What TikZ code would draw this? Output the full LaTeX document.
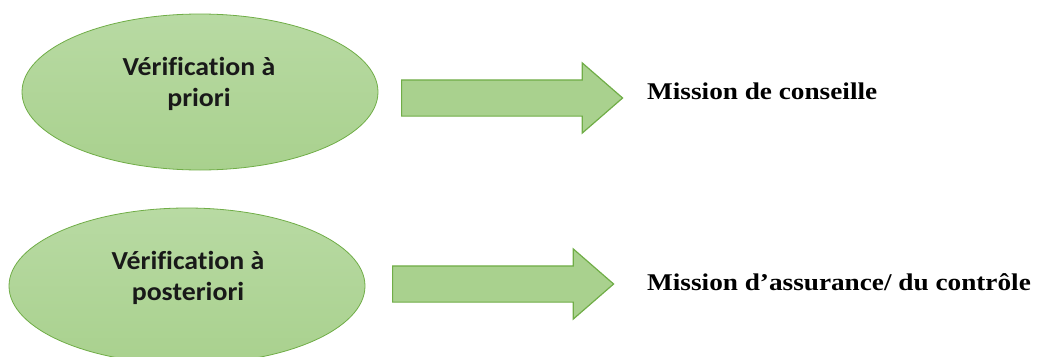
\documentclass[tikz,border=0pt]{standalone}
\usepackage{fontspec}
\usetikzlibrary{shapes.geometric,shapes.arrows}
\setmainfont{Liberation Serif}
\newfontfamily\calib[FakeStretch=1.07,Ligatures=NoCommon]{Carlito}
\newfontfamily\timesb[FakeStretch=1.135]{Liberation Serif}
\definecolor{gfill}{HTML}{A9D18E}
\definecolor{gtop}{HTML}{B8DAA3}
\definecolor{gline}{HTML}{70AD47}
\tikzset{
  oval/.style={ellipse, draw=gline, line width=0.8pt, top color=gtop, bottom color=gfill, minimum width=356pt, minimum height=156pt, inner sep=0pt},
  ovaltext/.style={font=\calib\bfseries\fontsize{26}{31}\selectfont, align=center, text=black!90, inner sep=0pt},
  bigarrow/.style={single arrow, draw=gline, line width=1.2pt, fill=gfill, minimum width=69pt, minimum height=221pt, single arrow head extend=17pt, single arrow tip angle=82, single arrow head indent=0pt, inner xsep=0pt, inner ysep=17.5pt, anchor=tail},
  mission/.style={font=\timesb\bfseries\fontsize{24}{28}\selectfont, anchor=base west, inner sep=0pt}
}
\begin{document}
\begin{tikzpicture}[x=1pt,y=-1pt]
\useasboundingbox (0,0) rectangle (1038,356);
\clip (0,0) rectangle (1038,356);
\node[oval] (e1) at (200,92) {};
\node[ovaltext] (t1) at (199,84) {Vérification à\\priori};
\node[oval] (e2) at (187,286) {};
\node[ovaltext] (t2) at (188,278) {Vérification à\\posteriori};
\node[bigarrow] (a1) at (401,98) {};
\node[bigarrow] (a2) at (392,284) {};
\node[mission] (m1) at (647,99) {Mission de conseille};
\node[mission] (m2) at (647,290) {Mission d’assurance/ du contrôle};
\end{tikzpicture}
\end{document}
